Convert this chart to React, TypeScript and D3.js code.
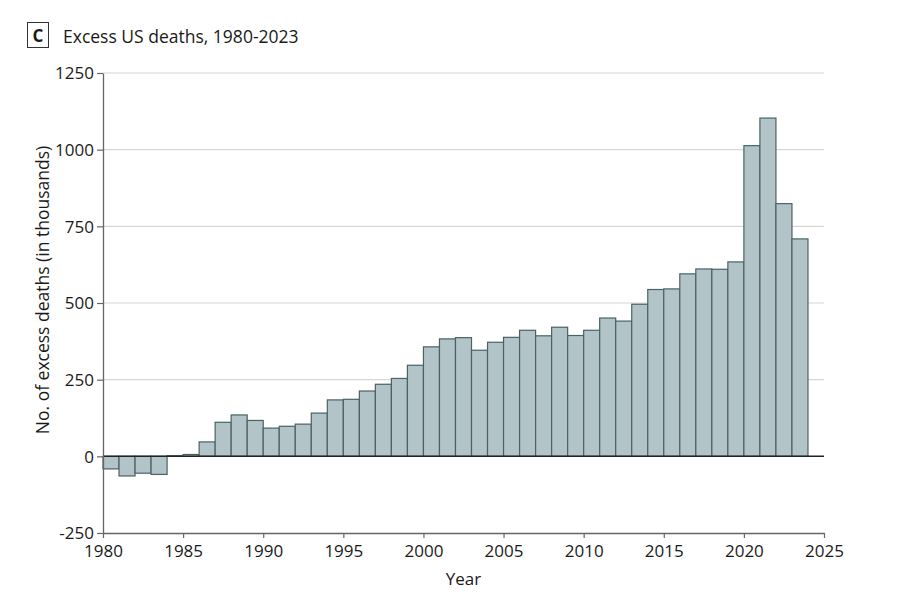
import React, { useEffect, useRef } from 'react';
import * as d3 from 'd3';

const years = d3.range(1980, 2024);
const excessDeaths = [
  -41, -64, -55, -59, 2, 6, 47, 111, 135, 117,
  92, 98, 105, 141, 184, 186, 213, 235, 254, 297,
  357, 383, 387, 346, 372, 388, 411, 393, 421, 394,
  411, 451, 441, 496, 544, 546, 595, 611, 610, 634,
  1013, 1103, 824, 709,
];
const yTicks = [-250, 0, 250, 500, 750, 1000, 1250];
const xTicks = [1980, 1985, 1990, 1995, 2000, 2005, 2010, 2015, 2020, 2025];

const W = 899;
const H = 607;
const font = '"Open Sans", "Noto Sans", sans-serif';

export default function App() {
  const svgRef = useRef<SVGSVGElement>(null);

  useEffect(() => {
    if (!svgRef.current) return;
    const svg = d3.select(svgRef.current);
    svg.selectAll('*').remove();

    const margin = { top: 73, right: 75, bottom: 74, left: 103 };
    const width = W - margin.left - margin.right;
    const height = H - margin.top - margin.bottom;

    const x = d3.scaleLinear().domain([1980, 2025]).range([0, width]);
    const y = d3.scaleLinear().domain([-250, 1250]).range([height, 0]);

    const g = svg.append('g').attr('transform', `translate(${margin.left},${margin.top})`);

    // grid
    g.append('g')
      .selectAll('line')
      .data(yTicks.filter(t => t > 0))
      .enter()
      .append('line')
      .attr('x1', 0)
      .attr('x2', width)
      .attr('y1', d => y(d))
      .attr('y2', d => y(d))
      .attr('stroke', '#d6d6d6')
      .attr('stroke-width', 1.2);

    // bars
    g.append('g')
      .selectAll('rect')
      .data(years)
      .enter()
      .append('rect')
      .attr('x', d => x(d))
      .attr('width', d => x(d + 1) - x(d))
      .attr('y', (d, i) => y(Math.max(0, excessDeaths[i])))
      .attr('height', (d, i) => Math.abs(y(excessDeaths[i]) - y(0)))
      .attr('fill', '#b2c4c8')
      .attr('stroke', '#4c6067')
      .attr('stroke-width', 1.2);

    // zero line
    g.append('line')
      .attr('x1', 0)
      .attr('x2', width)
      .attr('y1', y(0))
      .attr('y2', y(0))
      .attr('stroke', '#222')
      .attr('stroke-width', 1.5);

    // axes
    const fmt = (d: d3.NumberValue) => String(d);
    const yAxis = g.append('g').call(
      d3.axisLeft(y).tickValues(yTicks).tickSize(6).tickSizeOuter(0).tickFormat(fmt)
    );
    const xAxis = g.append('g')
      .attr('transform', `translate(0,${height})`)
      .call(d3.axisBottom(x).tickValues(xTicks).tickSize(5).tickSizeOuter(0).tickFormat(fmt));

    [yAxis, xAxis].forEach(a => {
      a.select('.domain').attr('stroke', '#666').attr('stroke-width', 1.3);
      a.selectAll('.tick line').attr('stroke', '#666').attr('stroke-width', 1.2);
      a.selectAll('.tick text')
        .attr('fill', '#1a1a1a')
        .style('font-family', font)
        .style('font-size', '17px');
    });
    yAxis.selectAll('.tick text').attr('x', -9).attr('dy', '0.35em');
    xAxis.selectAll('.tick text').attr('y', 12);

    // axis titles
    svg.append('text')
      .attr('x', margin.left + width / 2)
      .attr('y', 585)
      .attr('text-anchor', 'middle')
      .style('font-family', font)
      .style('font-size', '17px')
      .attr('fill', '#1a1a1a')
      .text('Year');

    svg.append('text')
      .attr('transform', 'rotate(-90)')
      .attr('x', -290)
      .attr('y', 49)
      .attr('text-anchor', 'middle')
      .style('font-family', font)
      .style('font-size', '17.5px')
      .attr('fill', '#1a1a1a')
      .text('No. of excess deaths (in thousands)');

    // panel label
    svg.append('rect')
      .attr('x', 27.5)
      .attr('y', 22.5)
      .attr('width', 21)
      .attr('height', 25)
      .attr('fill', 'none')
      .attr('stroke', '#333')
      .attr('stroke-width', 1);
    svg.append('text')
      .attr('x', 38)
      .attr('y', 42)
      .attr('text-anchor', 'middle')
      .style('font-family', font)
      .style('font-size', '17px')
      .style('font-weight', 'bold')
      .attr('fill', '#1a1a1a')
      .text('C');
    svg.append('text')
      .attr('x', 63)
      .attr('y', 43)
      .style('font-family', font)
      .style('font-size', '17.5px')
      .attr('fill', '#1a1a1a')
      .text('Excess US deaths, 1980-2023');
  }, []);

  return (
    <svg
      ref={svgRef}
      width={W}
      height={H}
      viewBox={`0 0 ${W} ${H}`}
      style={{ display: 'block', position: 'absolute', left: 0, top: 0, background: '#fff' }}
    />
  );
}
